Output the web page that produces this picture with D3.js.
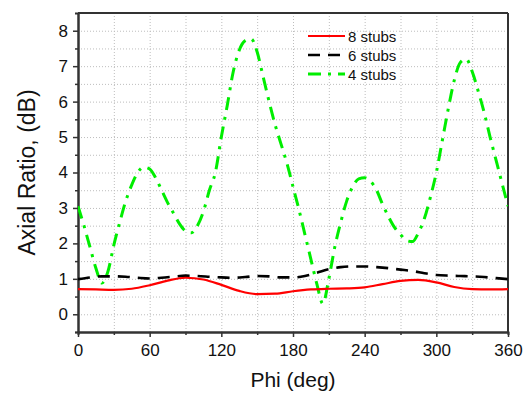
<!DOCTYPE html>
<html lang="en">
<head>
<meta charset="UTF-8">
<title>Axial Ratio</title>
<script src="https://d3js.org/d3.v7.min.js"></script>
<style>
    html, body { margin: 0; background: #fff; }
    svg { font-family: Arial, "Liberation Sans", sans-serif; }
    .grid line { stroke: #bdbdbd; stroke-width: 1; stroke-dasharray: 1,2; }
    .grid path { display: none; }
    .axis path, .axis line { stroke: #333; }
    .axis text { font-size: 17px; fill: #111; }
</style>
</head>
<body>
<div id="chart"></div>
<script>
// phi (deg) sample points
var phi = [0, 15, 30, 45, 60, 75, 90, 105, 120, 135, 150, 165, 180, 195, 210, 225, 240, 255, 270, 285, 300, 315, 330, 345, 360];
var stubs8 = [0.71, 0.70, 0.69, 0.72, 0.82, 0.95, 1.03, 0.98, 0.83, 0.66, 0.57, 0.58, 0.65, 0.70, 0.72, 0.73, 0.76, 0.85, 0.94, 0.97, 0.90, 0.77, 0.71, 0.70, 0.71];

var phi6 = [0, 10, 20, 30, 40, 50, 60, 70, 80, 90, 100, 110, 120, 130, 140, 150, 160, 170, 180, 190, 200, 210, 220, 230, 240, 250, 260, 270, 280, 290, 300, 310, 320, 330, 340, 350, 360];
var stubs6 = [0.99, 1.04, 1.07, 1.07, 1.06, 1.03, 1.01, 1.03, 1.06, 1.09, 1.08, 1.06, 1.04, 1.03, 1.05, 1.08, 1.07, 1.04, 1.04, 1.08, 1.17, 1.27, 1.33, 1.35, 1.35, 1.33, 1.30, 1.26, 1.22, 1.16, 1.11, 1.09, 1.08, 1.07, 1.05, 1.02, 0.99];

var phi4 = d3.range(0, 361, 5);
var stubs4 = [3.05, 2.5, 1.9, 1.3, 0.88, 1.2, 1.95, 2.6, 3.2, 3.65, 4.0, 4.15, 4.1, 3.85, 3.5, 3.15, 2.85, 2.55, 2.35, 2.3,
    2.5, 2.9, 3.5, 4.0, 5.0, 5.9, 6.85, 7.45, 7.72, 7.77, 7.4, 6.7, 6.0, 5.35, 4.8, 4.25, 3.6, 2.95, 2.25, 1.55,
    0.85, 0.3, 1.0, 1.9, 2.6, 3.2, 3.6, 3.82, 3.85, 3.75, 3.5, 3.1, 2.75, 2.45, 2.25, 2.08, 2.05, 2.3, 2.7, 3.3,
    4.0, 4.9, 5.8, 6.6, 7.1, 7.2, 6.85, 6.3, 5.7, 5.0, 4.35, 3.7, 3.05];

var xTicks = [0, 60, 120, 180, 240, 300, 360];
var yTicks = [0, 1, 2, 3, 4, 5, 6, 7, 8];
var seriesNames = ["8 stubs", "6 stubs", "4 stubs"];

var width = 526, height = 394;
var margin = { top: 13, right: 18, bottom: 62, left: 78 };
var w = width - margin.left - margin.right;
var h = height - margin.top - margin.bottom;

var svg = d3.select('#chart').append('svg')
    .attr('width', width)
    .attr('height', height);

var g = svg.append('g')
    .attr('transform', 'translate(' + margin.left + ',' + margin.top + ')');

var x = d3.scaleLinear().domain([0, 360]).range([0, w]);
var y = d3.scaleLinear().domain([-0.5, 8.5]).range([h, 0]);

// grid
g.append('g').attr('class', 'grid')
    .attr('transform', 'translate(0,' + h + ')')
    .call(d3.axisBottom(x).tickValues(d3.range(30, 360, 30)).tickSize(-h).tickFormat(''));
g.append('g').attr('class', 'grid')
    .call(d3.axisLeft(y).tickValues(d3.range(0, 8.5, 0.5)).tickSize(-w).tickFormat(''));

// minor ticks
g.append('g').attr('class', 'axis')
    .attr('transform', 'translate(0,' + h + ')')
    .call(d3.axisBottom(x).tickValues(d3.range(30, 360, 60)).tickSize(3).tickFormat(''))
    .selectAll('line').attr('stroke-width', 1.5);
g.append('g').attr('class', 'axis')
    .call(d3.axisLeft(y).tickValues(d3.range(-0.5, 8.5, 1)).tickSize(3).tickFormat(''))
    .selectAll('line').attr('stroke-width', 1.5);

// main axes
g.append('g').attr('class', 'axis')
    .attr('transform', 'translate(0,' + h + ')')
    .call(d3.axisBottom(x).tickValues(xTicks).tickSize(5).tickPadding(7).tickSizeOuter(0));
g.append('g').attr('class', 'axis')
    .call(d3.axisLeft(y).tickValues(yTicks).tickSize(5).tickPadding(5).tickSizeOuter(0));
g.selectAll('.axis path').attr('stroke-width', 2);
g.selectAll('.axis line').attr('stroke-width', 1.5);

// frame top/right
g.append('line').attr('x1', 0).attr('x2', w).attr('y1', 0).attr('y2', 0)
    .attr('stroke', '#333').attr('stroke-width', 2);
g.append('line').attr('x1', w).attr('x2', w).attr('y1', 0).attr('y2', h)
    .attr('stroke', '#333').attr('stroke-width', 2);

// lines
var line = d3.line().curve(d3.curveMonotoneX)
    .x(function (d) { return x(d[0]); })
    .y(function (d) { return y(d[1]); });

var styles = [
    { color: '#ff0000', width: 2.2, dash: null },
    { color: '#000000', width: 2.6, dash: '12,8' },
    { color: '#00ee00', width: 3, dash: '13,7,3,7' }
];
var series = [
    d3.zip(phi, stubs8),
    d3.zip(phi6, stubs6),
    d3.zip(phi4, stubs4)
];

g.append('clipPath').attr('id', 'clip').append('rect')
    .attr('width', w).attr('height', h);

[2, 1, 0].forEach(function (i) {
    g.append('path')
        .datum(series[i])
        .attr('clip-path', 'url(#clip)')
        .attr('fill', 'none')
        .attr('stroke', styles[i].color)
        .attr('stroke-width', styles[i].width)
        .attr('stroke-dasharray', styles[i].dash)
        .attr('d', line);
});

// legend
var legend = g.append('g').attr('transform', 'translate(230,23)');
seriesNames.forEach(function (name, i) {
    var row = legend.append('g').attr('transform', 'translate(0,' + (i * 19) + ')');
    row.append('line')
        .attr('x1', 0).attr('x2', 37).attr('y1', 0).attr('y2', 0)
        .attr('stroke', styles[i].color)
        .attr('stroke-width', styles[i].width)
        .attr('stroke-dasharray', styles[i].dash);
    row.append('text')
        .attr('x', 40).attr('y', 5.5)
        .attr('font-size', 15)
        .attr('fill', '#111')
        .text(name);
});

// axis titles
svg.append('text')
    .attr('x', margin.left + w / 2)
    .attr('y', 387)
    .attr('text-anchor', 'middle')
    .attr('font-size', 21)
    .attr('fill', '#111')
    .text('Phi (deg)');
svg.append('text')
    .attr('transform', 'translate(35,' + (margin.top + y(4)) + ') rotate(-90)')
    .attr('text-anchor', 'middle')
    .attr('font-size', 23)
    .attr('fill', '#111')
    .text('Axial Ratio, (dB)');
</script>
</body>
</html>
